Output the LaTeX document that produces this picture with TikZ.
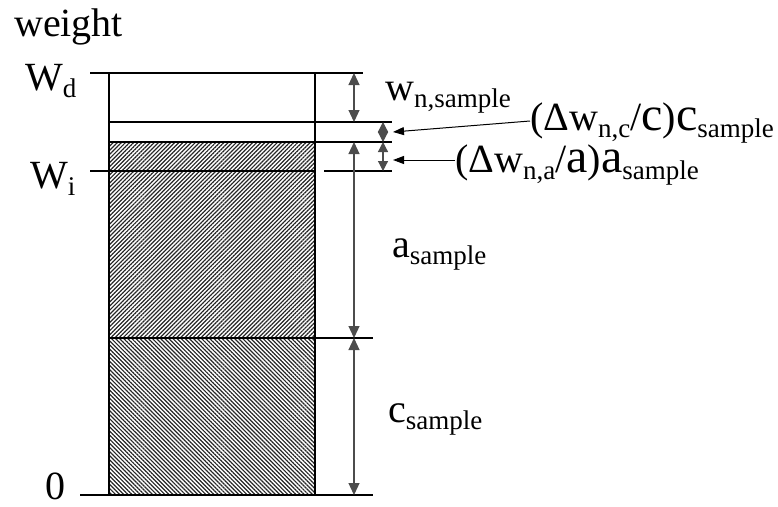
\documentclass[tikz,border=0pt]{standalone}
\usepackage{fontspec}
\setmainfont{Liberation Serif}
\usepackage{tikz}
\usetikzlibrary{arrows.meta,positioning,patterns.meta}
\newcommand{\lowsub}[1]{\raisebox{-0.18em}{\fontsize{27}{29}\selectfont #1}}
\newcommand{\bigch}[1]{\raisebox{0pt}[0.5em][0pt]{\fontsize{48}{50}\selectfont #1}}
\tikzset{
  levelline/.style={line width=1.2pt,draw=black},
  boxside/.style={line width=1.2pt,draw=black},
  dimarrow/.style={{Triangle[length=12pt,width=11pt]}-{Triangle[length=12pt,width=11pt]},line width=1.2pt,draw=black!70,fill=black},
  smalldim/.style={{Triangle[length=10pt,width=10pt]}-{Triangle[length=10pt,width=10pt]},line width=1.2pt,draw=black!70,fill=black},
  leadarrow/.style={-{Triangle[length=11pt,width=8pt]},line width=1pt,draw=black},
  biglabel/.style={font=\fontsize{40}{44}\selectfont,inner sep=0pt,anchor=base west},
  upperhatch/.style={pattern={Lines[angle=45,distance=2.9pt,line width=1.2pt]},pattern color=black!85},
  lowerhatch/.style={pattern={Lines[angle=-45,distance=2.9pt,line width=1.2pt]},pattern color=black!85}
}

\begin{document}
\begin{tikzpicture}[x=1pt,y=-1pt]
  \useasboundingbox (0,0) rectangle (778,506);
  % levels and columns
  \coordinate (lvD) at (0,73);
  \coordinate (lvN) at (0,122);
  \coordinate (lvA) at (0,142);
  \coordinate (lvI) at (0,171);
  \coordinate (lvC) at (0,338);
  \coordinate (lvZ) at (0,495);
  \coordinate (boxL) at (109,0);
  \coordinate (boxR) at (315,0);
  \coordinate (dimX) at (354,0);
  \coordinate (smallX) at (383,0);
  % hatched parts
  \fill[upperhatch] (boxL |- lvA) rectangle (boxR |- lvC);
  \fill[lowerhatch] (boxL |- lvC) rectangle (boxR |- lvZ);
  % level lines
  \draw[levelline] (90,73) -- (363,73);
  \draw[levelline] (boxL |- lvN) -- (392,122);
  \draw[levelline] (boxL |- lvA) -- (392,142);
  \draw[levelline] (90,171) -- (boxR |- lvI);
  \draw[levelline] (324,171) -- (392,171);
  \draw[levelline] (boxL |- lvC) -- (373,338);
  \draw[levelline] (80,495) -- (373,495);
  \draw[boxside] (boxL |- lvD) -- (boxL |- lvZ);
  \draw[boxside] (boxR |- lvD) -- (boxR |- lvZ);
  % dimension arrows
  \draw[dimarrow] (dimX |- lvD) -- (dimX |- lvN);
  \draw[smalldim] (smallX |- lvN) -- (smallX |- lvA);
  \draw[smalldim] (smallX |- lvA) -- (smallX |- lvI);
  \draw[dimarrow] (dimX |- lvA) -- (dimX |- lvC);
  \draw[dimarrow] (dimX |- lvC) -- (dimX |- lvZ);
  % labels
  \node[biglabel] (weightlbl) at (14,36) {weight};
  \node[biglabel] (wdlbl) at (25,90) {W\lowsub{d}};
  \node[biglabel] (wilbl) at (30,188) {W\lowsub{i}};
  \node[biglabel] (zerolbl) at (45,499) {0};
  \node[biglabel] (wnlbl) at (385,100) {w\lowsub{n,sample}};
  \node[biglabel] (dclbl) at (530,130) {(Δw\lowsub{n,c}/\bigch{c})\bigch{c}\lowsub{sample}};
  \node[biglabel] (dalbl) at (455,172) {(Δw\lowsub{n,a}/\bigch{a})\bigch{a}\lowsub{sample}};
  \node[biglabel] (aslbl) at (392,257) {a\lowsub{sample}};
  \node[biglabel] (cslbl) at (388,422) {c\lowsub{sample}};
  % leaders
  \coordinate (dcTip) at (393,132);
  \coordinate (daTip) at (393,160);
  \draw[leadarrow] ([yshift=9pt]dclbl.base west) -- (dcTip);
  \draw[leadarrow] ([yshift=12pt]dalbl.base west) -- (daTip);
\end{tikzpicture}
\end{document}
